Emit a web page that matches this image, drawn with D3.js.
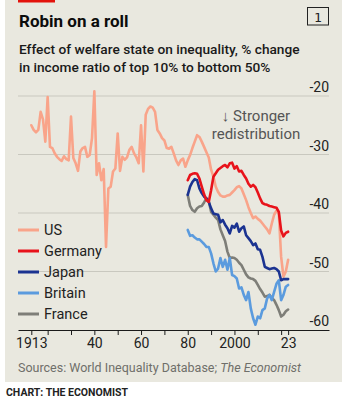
<!DOCTYPE html>
<html><head><meta charset="utf-8">
<script src="https://cdn.jsdelivr.net/npm/d3@7"></script>
<style>
html,body{margin:0;padding:0;background:#fff;}
svg{display:block;}
</style></head>
<body>
<svg id="c" width="355" height="400"></svg>
<script>
const usYears = [1913,1914,1915,1916,1917,1918,1919,1920,1921,1922,1923,1924,1925,1926,1927,1928,1929,1930,1931,1932,1933,1934,1935,1936,1937,1938,1939,1940,1941,1942,1943,1944,1945,1946,1947,1948,1949,1950,1951,1952,1953,1954,1955,1956,1957,1958,1959,1960,1961,1962,1963,1964,1965,1966,1967,1968,1969,1970,1971,1972,1973,1974,1975,1976,1977,1978,1979,1980,1981,1982,1983,1984,1985,1986,1987,1988,1989,1990,1991,1992,1993,1994,1995,1996,1997,1998,1999,2000,2001,2002,2003,2004,2005,2006,2007,2008,2009,2010,2011,2012,2013,2014,2015,2016,2017,2018,2019,2020,2021,2022,2023];
const usValues = [-25.0,-25.8,-26.2,-25.8,-22.7,-24.0,-27.8,-20.2,-28.7,-28.9,-29.8,-30.4,-30.8,-31.1,-30.3,-30.8,-31.0,-23.5,-30.6,-31.5,-32.8,-29.5,-28.9,-28.7,-30.4,-30.1,-27.2,-19.2,-33.5,-31.5,-34.4,-32.5,-45.8,-35.8,-35.5,-32.9,-32.4,-26.4,-32.8,-30.4,-30.9,-30.5,-29.2,-28.7,-29.8,-30.5,-31.5,-25.0,-32.9,-23.2,-22.2,-21.8,-22.0,-22.7,-25.8,-26.4,-27.2,-27.6,-28.9,-29.0,-28.7,-29.8,-31.0,-31.8,-31.0,-30.7,-32.1,-31.0,-30.1,-28.9,-27.8,-26.7,-27.0,-27.8,-28.7,-29.6,-30.5,-32.6,-33.8,-35.5,-36.4,-37.0,-37.2,-37.2,-37.0,-36.9,-36.5,-36.1,-35.6,-35.4,-35.8,-36.8,-37.8,-39.0,-40.0,-40.9,-40.6,-41.0,-41.3,-41.8,-42.3,-42.8,-43.5,-41.8,-40.3,-39.6,-40.0,-47.5,-50.9,-50.0,-48.0];

const modernYears = d3.range(1980, 2024);
const germanyValues = [-34.4,-33.5,-33.3,-33.2,-33.3,-34.1,-35.5,-36.8,-37.8,-38.1,-36.1,-33.8,-33.2,-32.6,-32.3,-32.0,-31.8,-32.2,-31.5,-31.4,-32.4,-32.0,-32.9,-32.8,-33.5,-34.1,-35.0,-35.5,-35.2,-35.6,-36.5,-37.5,-38.3,-38.5,-38.6,-38.8,-38.9,-39.0,-39.1,-39.8,-43.0,-44.0,-43.4,-43.2];
const japanValues = [-36.9,-35.5,-34.7,-34.2,-34.4,-35.8,-36.6,-37.2,-37.5,-38.1,-39.2,-40.1,-40.2,-40.3,-41.6,-41.2,-42.0,-42.6,-43.5,-42.2,-42.5,-41.8,-43.2,-42.6,-42.3,-43.8,-44.3,-44.8,-45.5,-45.2,-46.2,-46.3,-47.5,-49.2,-49.4,-49.6,-49.5,-49.4,-49.6,-50.0,-51.5,-51.3,-51.3,-51.3];
const britainValues = [-42.9,-43.9,-43.8,-44.2,-44.5,-44.5,-44.9,-45.3,-45.8,-45.8,-46.9,-48.6,-50.0,-49.5,-47.7,-49.2,-48.0,-49.7,-47.7,-50.6,-50.8,-51.2,-52.9,-52.7,-54.0,-54.9,-53.5,-56.3,-58.0,-59.1,-57.7,-58.0,-56.6,-56.3,-54.6,-54.0,-54.9,-53.5,-52.1,-51.5,-54.9,-54.0,-52.6,-52.3];
const franceValues = [-36.9,-38.8,-39.5,-39.8,-39.2,-38.9,-38.8,-38.2,-37.5,-38.0,-39.8,-40.3,-40.8,-41.2,-42.8,-43.8,-44.8,-46.6,-47.7,-47.6,-47.7,-48.0,-48.5,-48.9,-49.7,-50.5,-51.0,-51.2,-51.3,-51.6,-52.3,-53.0,-53.6,-54.3,-54.2,-54.0,-54.5,-54.9,-55.7,-56.6,-57.7,-57.4,-56.8,-56.5];

const seriesNames = ["US","Germany","Japan","Britain","France"];
const seriesColors = ["#f9a48a","#e8131b","#1b3391","#5b9bde","#7e7e78"];
const yTicks = [-20,-30,-40,-50,-60];
const xTicks = [1913,1920,1930,1940,1950,1960,1970,1980,1990,2000,2010,2020,2023];
const xTickLabels = {1913:"1913",1940:"40",1960:"60",1980:"80",2000:"2000",2023:"23"};

const series = [
  {name:"US", years:usYears, values:usValues},
  {name:"Germany", years:modernYears, values:germanyValues},
  {name:"Japan", years:modernYears, values:japanValues},
  {name:"Britain", years:modernYears, values:britainValues},
  {name:"France", years:modernYears, values:franceValues}
];
const color = d3.scaleOrdinal().domain(seriesNames).range(seriesColors);

const svg = d3.select("#c");
const F = "'Liberation Sans Narrow','Roboto',sans-serif";

// panel
svg.append("rect").attr("x",5).attr("y",0).attr("width",337).attr("height",382).attr("fill","#e9e8df");
svg.append("rect").attr("x",18).attr("y",0).attr("width",37).attr("height",2.5).attr("fill","#e3120b");

svg.append("text").attr("x",19).attr("y",27).text("Robin on a roll")
  .attr("font-family","Roboto,sans-serif").attr("font-weight","700").attr("font-size",17).attr("fill","#0c0c0c");
svg.append("rect").attr("x",307.5).attr("y",7.5).attr("width",21).attr("height",17.5)
  .attr("fill","none").attr("stroke","#222").attr("stroke-width",1);
svg.append("text").attr("x",318).attr("y",21.5).attr("text-anchor","middle").text("1")
  .attr("font-family","'DejaVu Sans Mono',monospace").attr("font-size",13).attr("fill","#222");

const sub = svg.append("text").attr("font-family","Roboto,sans-serif").attr("font-weight","500").attr("font-size",13.7).attr("fill","#1a1a1a");
sub.append("tspan").attr("x",19).attr("y",54).text("Effect of welfare state on inequality, % change");
sub.append("tspan").attr("x",19).attr("y",72).text("in income ratio of top 10% to bottom 50%");

const x = d3.scaleLinear().domain([1907.3, 2040.5]).range([18, 329]);
const y = d3.scaleLinear().domain([-20, -60]).range([96, 330]);

// gridlines and y labels
const g = svg.append("g");
g.selectAll("line.grid").data(yTicks.filter(d=>d!==-60)).join("line")
  .attr("x1",18).attr("x2",329).attr("y1",d=>y(d)).attr("y2",d=>y(d))
  .attr("stroke","#c9c8bf").attr("stroke-width",1);
g.selectAll("text.yl").data(yTicks).join("text")
  .attr("x",329).attr("y",d=>y(d)-4).attr("text-anchor","end")
  .attr("font-family",F).attr("font-size",14).attr("fill","#222").text(d=>d);

// x axis
const xAxis = d3.axisBottom(x).tickValues(xTicks).tickSize(5).tickSizeOuter(0)
  .tickFormat(d=>xTickLabels[d]||"");
const ax = svg.append("g").attr("transform",`translate(0,${y(-60)})`).call(xAxis);
ax.select(".domain").attr("stroke","#1a1a1a").attr("stroke-width",1);
ax.selectAll(".tick line").attr("stroke","#1a1a1a");
ax.selectAll(".tick text").attr("font-family",F).attr("font-size",14).attr("fill","#222").attr("dy","0.95em").attr("y",5);

// lines
const line = d3.line().x(d=>x(d[0])).y(d=>y(d[1])).curve(d3.curveLinear);
const drawOrder = ["US","France","Britain","Japan","Germany"];
drawOrder.forEach(n=>{
  const s = series.find(t=>t.name===n);
  svg.append("path").datum(s.years.map((yr,i)=>[yr,s.values[i]]))
    .attr("d",line).attr("fill","none").attr("stroke",color(n))
    .attr("stroke-width",2.6).attr("stroke-linejoin","round").attr("stroke-linecap","round");
});

// annotation
const ann = svg.append("text").attr("text-anchor","middle").attr("font-family",F).attr("font-size",15).attr("fill","#555");
ann.append("tspan").attr("x",256).attr("y",121).text("\u2193 Stronger");
ann.append("tspan").attr("x",256).attr("y",139).text("redistribution");

// legend
const leg = svg.append("g");
seriesNames.forEach((n,i)=>{
  const yy = 230 + i*21;
  leg.append("line").attr("x1",18).attr("x2",39).attr("y1",yy).attr("y2",yy)
    .attr("stroke",color(n)).attr("stroke-width",3);
  leg.append("text").attr("x",44).attr("y",yy+5).attr("font-family",F).attr("font-size",14.5)
    .attr("fill","#222").text(n);
});

// source
const src = svg.append("text").attr("x",18).attr("y",372).attr("font-family",F).attr("font-size",12.5).attr("fill","#6f6f6a");
src.append("tspan").text("Sources: World Inequality Database; ");
src.append("tspan").attr("font-style","italic").text("The Economist");

svg.append("text").attr("x",6).attr("y",396).attr("font-family","Roboto,sans-serif").attr("font-weight","700")
  .attr("font-size",10.5).attr("fill","#222").text("CHART: THE ECONOMIST");
</script>
</body></html>
